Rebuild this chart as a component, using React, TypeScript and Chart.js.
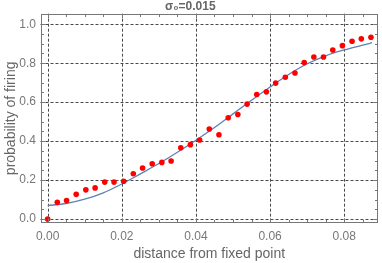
import React, { useEffect, useRef } from "react";
import { Chart, registerables } from "chart.js";

Chart.register(...registerables);

const titleText = "σ₀=0.015";
const xTitle = "distance from fixed point";
const yTitle = "probability of firing";

const xTicks = [0, 0.02, 0.04, 0.06, 0.08];
const yTicks = [0, 0.2, 0.4, 0.6, 0.8, 1.0];
const xMinorStep = 0.005;
const yMinorStep = 0.05;

const pointX = [
  0, 0.0026, 0.0051, 0.0077, 0.0103, 0.0128, 0.0154, 0.0179, 0.0205, 0.0231,
  0.0256, 0.0282, 0.0308, 0.0333, 0.0359, 0.0385, 0.041, 0.0436, 0.0462, 0.0487,
  0.0513, 0.0538, 0.0564, 0.059, 0.0615, 0.0641, 0.0667, 0.0692, 0.0718, 0.0744,
  0.0769, 0.0795, 0.0821, 0.0846, 0.0872,
];
const pointY = [
  0.0, 0.086, 0.095, 0.127, 0.15, 0.16, 0.19, 0.19, 0.194, 0.233,
  0.262, 0.284, 0.291, 0.298, 0.366, 0.382, 0.406, 0.462, 0.433, 0.52,
  0.537, 0.59, 0.639, 0.653, 0.698, 0.728, 0.75, 0.803, 0.832, 0.832,
  0.868, 0.89, 0.913, 0.925, 0.933,
];

const fitX = [0, 0.005, 0.01, 0.015, 0.02, 0.025, 0.03, 0.035, 0.04, 0.045, 0.05, 0.055, 0.06, 0.065, 0.07, 0.075, 0.08, 0.085, 0.0875];
const fitY = [0.069, 0.08, 0.102, 0.135, 0.18, 0.232, 0.285, 0.343, 0.405, 0.47, 0.54, 0.61, 0.678, 0.742, 0.797, 0.838, 0.868, 0.893, 0.905];

const FONT = "'Liberation Sans', Arial, sans-serif";

const framePlugin = {
  id: "frame",
  beforeDatasetsDraw(chart: any) {
    const { ctx, chartArea, scales } = chart;
    const xs = scales.x;
    const ys = scales.y;
    ctx.save();
    ctx.strokeStyle = "#4a4a4a";
    ctx.lineWidth = 1;
    ctx.setLineDash([3, 2]);
    for (const v of xTicks) {
      const px = Math.round(xs.getPixelForValue(v)) + 0.5;
      ctx.beginPath();
      ctx.moveTo(px, chartArea.top);
      ctx.lineTo(px, chartArea.bottom);
      ctx.stroke();
    }
    for (const v of yTicks) {
      const py = Math.round(ys.getPixelForValue(v)) + 0.5;
      ctx.beginPath();
      ctx.moveTo(chartArea.left, py);
      ctx.lineTo(chartArea.right, py);
      ctx.stroke();
    }
    ctx.restore();
  },
  afterDraw(chart: any) {
    const { ctx, chartArea, scales } = chart;
    const xs = scales.x;
    const ys = scales.y;
    ctx.save();
    ctx.strokeStyle = "#777";
    ctx.lineWidth = 1;
    const l = Math.round(chartArea.left) + 0.5;
    const r = Math.round(chartArea.right) - 0.5;
    const t = Math.round(chartArea.top) + 0.5;
    const b = Math.round(chartArea.bottom) - 0.5;
    ctx.strokeRect(l, t, r - l, b - t);
    const isMajor = (v: number, arr: number[]) => arr.some((m) => Math.abs(m - v) < 1e-9);
    ctx.beginPath();
    for (let k = 0; k * xMinorStep <= xs.max + 1e-9; k++) {
      const v = k * xMinorStep;
      const len = isMajor(v, xTicks) ? 4 : 2.5;
      const px = Math.round(xs.getPixelForValue(v)) + 0.5;
      ctx.moveTo(px, b);
      ctx.lineTo(px, b - len);
      ctx.moveTo(px, t);
      ctx.lineTo(px, t + len);
    }
    for (let k = 0; k * yMinorStep <= ys.max + 1e-9; k++) {
      const v = k * yMinorStep;
      const len = isMajor(v, yTicks) ? 4 : 2.5;
      const py = Math.round(ys.getPixelForValue(v)) + 0.5;
      ctx.moveTo(l, py);
      ctx.lineTo(l + len, py);
      ctx.moveTo(r, py);
      ctx.lineTo(r - len, py);
    }
    ctx.stroke();
    ctx.restore();
  },
};

export default function App() {
  const ref = useRef<HTMLCanvasElement | null>(null);
  useEffect(() => {
    if (!ref.current) return;
    const chart = new Chart(ref.current, {
      type: "scatter",
      data: {
        datasets: [
          {
            type: "line",
            data: fitX.map((x, i) => ({ x, y: fitY[i] })),
            borderColor: "#5e81b5",
            borderWidth: 1.3,
            pointRadius: 0,
            cubicInterpolationMode: "monotone",
            fill: false,
            order: 2,
          } as any,
          {
            type: "scatter",
            data: pointX.map((x, i) => ({ x, y: pointY[i] })),
            backgroundColor: "#ff0000",
            borderWidth: 0,
            pointRadius: 2.8,
            order: 1,
          },
        ],
      },
      options: {
        animation: false,
        responsive: false,
        devicePixelRatio: 1,
        layout: { padding: { left: 0, right: 1.5, top: 0, bottom: 0 } },
        plugins: {
          legend: { display: false },
          tooltip: { enabled: false },
          title: {
            display: true,
            text: titleText,
            color: "#666",
            font: { family: FONT, size: 12, weight: "bold", lineHeight: 1.1 },
            padding: { top: 0, bottom: 0.5 },
          },
        },
        scales: {
          x: {
            type: "linear",
            min: -0.00193,
            max: 0.0891,
            afterBuildTicks: (s: any) => {
              s.ticks = xTicks.map((v) => ({ value: v }));
            },
            afterFit: (s: any) => {
              s.height = 40;
            },
            ticks: {
              callback: (v: any) => Number(v).toFixed(2),
              color: "#777",
              font: { family: FONT, size: 12 },
              padding: 6,
            },
            grid: { display: false, drawTicks: false },
            border: { display: false },
            title: {
              display: true,
              text: xTitle,
              color: "#666",
              font: { family: FONT, size: 14 },
              padding: { top: 0.6, bottom: 0 },
            },
          },
          y: {
            type: "linear",
            min: -0.02,
            max: 1.054,
            afterBuildTicks: (s: any) => {
              s.ticks = yTicks.map((v) => ({ value: v }));
            },
            afterFit: (s: any) => {
              s.width = 40.5;
            },
            ticks: {
              callback: (v: any) => Number(v).toFixed(1),
              color: "#777",
              font: { family: FONT, size: 12 },
              padding: 4.5,
            },
            grid: { display: false, drawTicks: false },
            border: { display: false },
            title: {
              display: true,
              text: yTitle,
              color: "#666",
              font: { family: FONT, size: 14 },
              padding: { top: 2.6, bottom: 0 },
            },
          },
        },
      } as any,
      plugins: [framePlugin],
    });
    return () => chart.destroy();
  }, []);
  return (
    <div style={{ position: "absolute", left: 0, top: 0, width: 382, height: 263, background: "#fff" }}>
      <canvas ref={ref} width={382} height={263} style={{ width: 382, height: 263 }} />
    </div>
  );
}
